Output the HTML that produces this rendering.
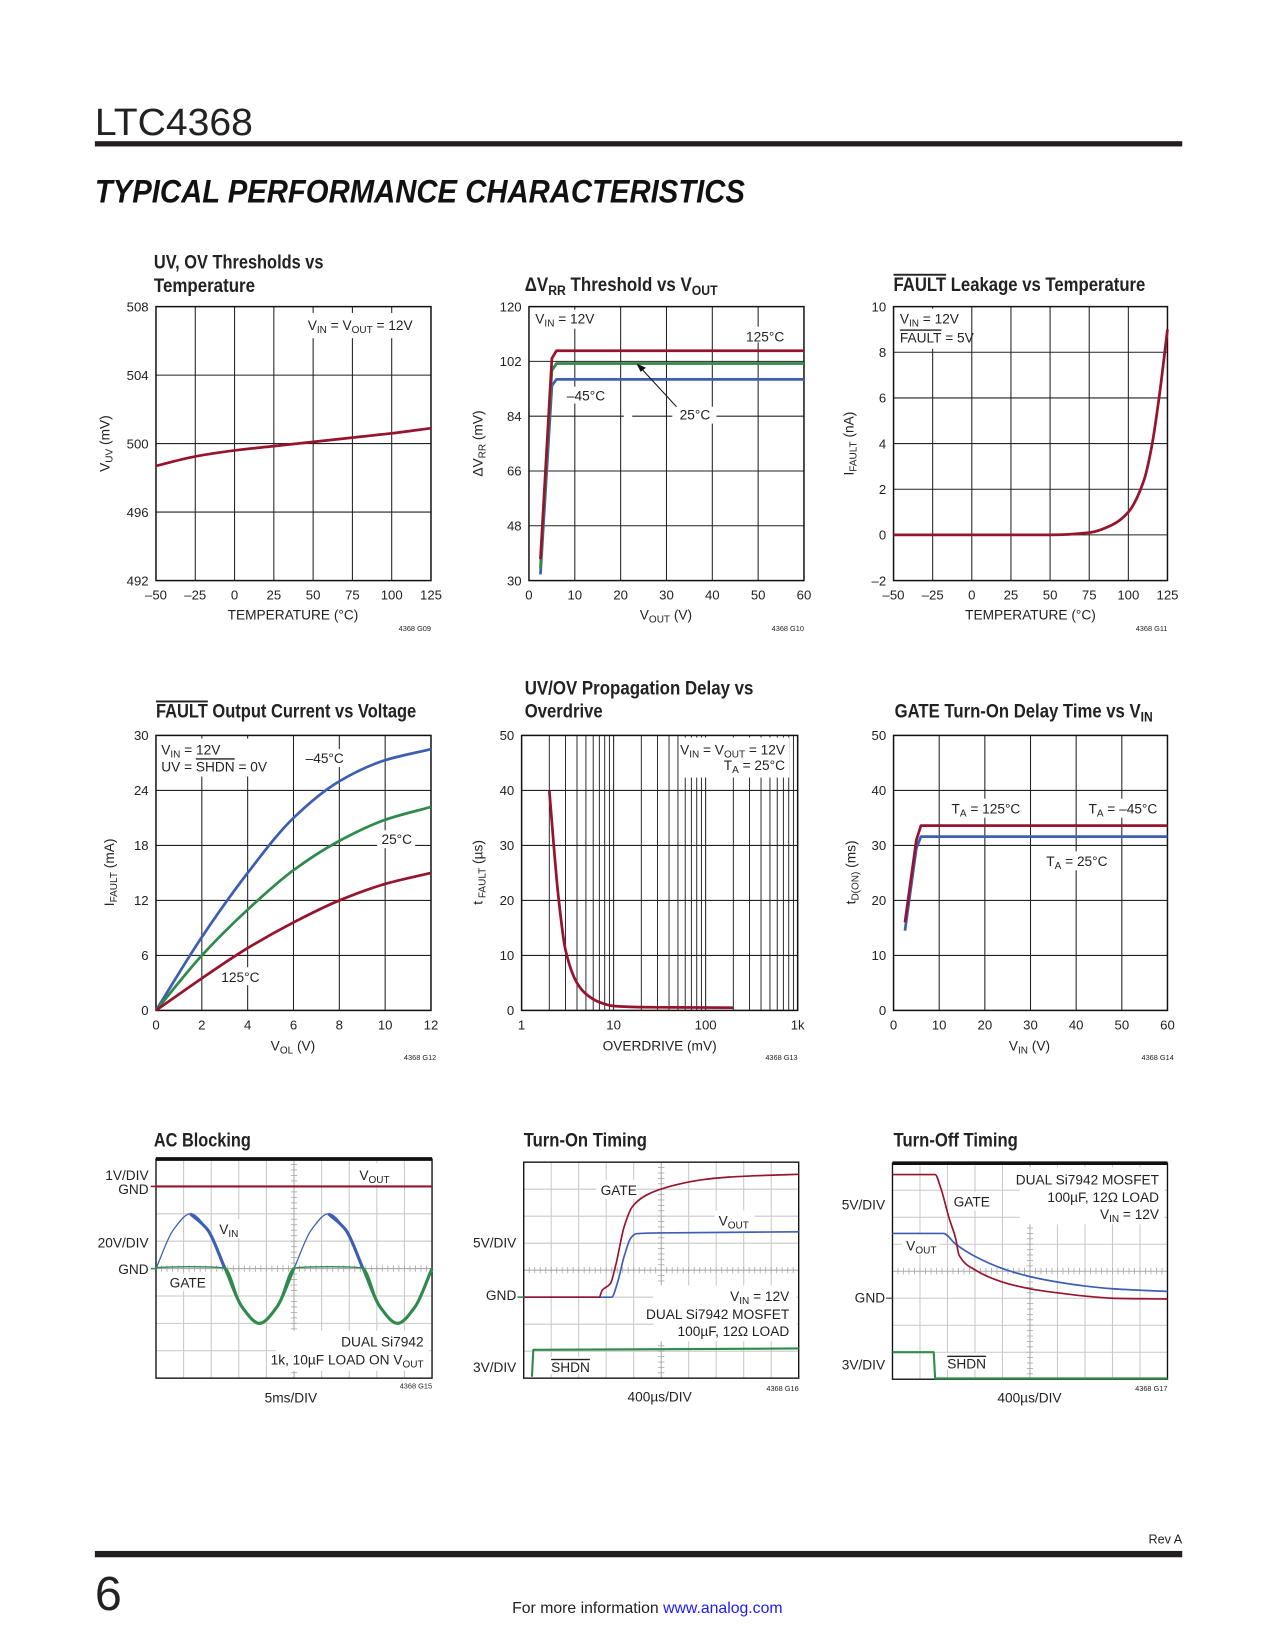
<!DOCTYPE html>
<html><head><meta charset="utf-8"><title>LTC4368 Typical Performance Characteristics</title>
<style>
html,body{margin:0;padding:0;background:#fff;}
svg{display:block;font-family:"Liberation Sans Narrow","Liberation Sans",sans-serif;}
.t{font-size:18px;font-weight:bold;fill:#222;}
.a{font-size:13px;fill:#222;}
.tk{font-size:12.5px;fill:#222;}
.cd{font-size:7px;fill:#222;}
</style></head>
<body>
<svg id="pg" width="1275" height="1650" viewBox="0 0 1210 1566" xmlns="http://www.w3.org/2000/svg">
<rect x="0" y="0" width="1210" height="1566" fill="#fff"/>
<g>
<text x="90" y="128" font-size="36" fill="#222" textLength="150" lengthAdjust="spacingAndGlyphs">LTC4368</text>
<rect x="90" y="134" width="1032" height="5" fill="#231f20"/>
<text x="90" y="192" font-size="31" font-weight="bold" font-style="italic" fill="#111" font-family="Liberation Sans, sans-serif" textLength="617" lengthAdjust="spacingAndGlyphs">TYPICAL PERFORMANCE CHARACTERISTICS</text>
</g>
<g id="charts"></g>
<g id="labels">
<text class="t" x="146" y="255" textLength="161" lengthAdjust="spacingAndGlyphs">UV, OV Thresholds vs</text>
<text class="t" x="146" y="277" textLength="96" lengthAdjust="spacingAndGlyphs">Temperature</text>
<text class="a" x="292" y="313">V<tspan font-size="9.5" baseline-shift="-3">IN</tspan> = V<tspan font-size="9.5" baseline-shift="-3">OUT</tspan> = 12V</text>
<text class="a" x="278" y="588" text-anchor="middle">TEMPERATURE (°C)</text>
<text class="a" transform="translate(104,421) rotate(-90)" text-anchor="middle">V<tspan font-size="9.5" baseline-shift="-3">UV</tspan> (mV)</text>
<text class="cd" x="409" y="599" text-anchor="end">4368 G09</text>
<text class="t" x="498" y="276" textLength="183" lengthAdjust="spacingAndGlyphs">ΔV<tspan font-size="13" baseline-shift="-4">RR</tspan> Threshold vs V<tspan font-size="13" baseline-shift="-4">OUT</tspan></text>
<text class="a" x="508" y="307">V<tspan font-size="9.5" baseline-shift="-3">IN</tspan> = 12V</text>
<text class="a" x="708" y="324">125°C</text>
<text class="a" x="538" y="380">–45°C</text>
<text class="a" x="645" y="398">25°C</text>
<text class="a" x="632" y="588" text-anchor="middle">V<tspan font-size="9.5" baseline-shift="-3">OUT</tspan> (V)</text>
<text class="a" transform="translate(458,421) rotate(-90)" text-anchor="middle">ΔV<tspan font-size="9.5" baseline-shift="-3">RR</tspan> (mV)</text>
<text class="cd" x="763" y="599" text-anchor="end">4368 G10</text>
<text class="t" x="848" y="276" textLength="239" lengthAdjust="spacingAndGlyphs"><tspan text-decoration="overline">FAULT</tspan> Leakage vs Temperature</text>
<text class="a" x="854" y="307">V<tspan font-size="9.5" baseline-shift="-3">IN</tspan> = 12V</text>
<text class="a" x="854" y="325"><tspan text-decoration="overline">FAULT</tspan> = 5V</text>
<text class="a" x="978" y="588" text-anchor="middle">TEMPERATURE (°C)</text>
<text class="a" transform="translate(810,421) rotate(-90)" text-anchor="middle">I<tspan font-size="9.5" baseline-shift="-3">FAULT</tspan> (nA)</text>
<text class="cd" x="1108" y="599" text-anchor="end">4368 G11</text>
<text class="t" x="148" y="681" textLength="247" lengthAdjust="spacingAndGlyphs"><tspan text-decoration="overline">FAULT</tspan> Output Current vs Voltage</text>
<text class="a" x="153" y="716">V<tspan font-size="9.5" baseline-shift="-3">IN</tspan> = 12V</text>
<text class="a" x="153" y="732">UV = <tspan text-decoration="overline">SHDN</tspan> = 0V</text>
<text class="a" x="290" y="724">–45°C</text>
<text class="a" x="362" y="801">25°C</text>
<text class="a" x="210" y="932">125°C</text>
<text class="a" x="278" y="997" text-anchor="middle">V<tspan font-size="9.5" baseline-shift="-3">OL</tspan> (V)</text>
<text class="a" transform="translate(108,828) rotate(-90)" text-anchor="middle">I<tspan font-size="9.5" baseline-shift="-3">FAULT</tspan> (mA)</text>
<text class="cd" x="414" y="1006" text-anchor="end">4368 G12</text>
<text class="t" x="498" y="659" textLength="217" lengthAdjust="spacingAndGlyphs">UV/OV Propagation Delay vs</text>
<text class="t" x="498" y="681" textLength="74" lengthAdjust="spacingAndGlyphs">Overdrive</text>
<text class="a" x="745" y="716" text-anchor="end">V<tspan font-size="9.5" baseline-shift="-3">IN</tspan> = V<tspan font-size="9.5" baseline-shift="-3">OUT</tspan> = 12V</text>
<text class="a" x="745" y="731" text-anchor="end">T<tspan font-size="9.5" baseline-shift="-3">A</tspan> = 25°C</text>
<text class="a" x="626" y="997" text-anchor="middle">OVERDRIVE (mV)</text>
<text class="a" transform="translate(458,828) rotate(-90)" text-anchor="middle">t<tspan font-size="9.5" baseline-shift="-3"> FAULT</tspan> (µs)</text>
<text class="cd" x="757" y="1006" text-anchor="end">4368 G13</text>
<text class="t" x="849" y="681" textLength="245" lengthAdjust="spacingAndGlyphs">GATE Turn-On Delay Time vs V<tspan font-size="13" baseline-shift="-4">IN</tspan></text>
<text class="a" x="903" y="772">T<tspan font-size="9.5" baseline-shift="-3">A</tspan> = 125°C</text>
<text class="a" x="1033" y="772">T<tspan font-size="9.5" baseline-shift="-3">A</tspan> = –45°C</text>
<text class="a" x="993" y="822">T<tspan font-size="9.5" baseline-shift="-3">A</tspan> = 25°C</text>
<text class="a" x="977" y="997" text-anchor="middle">V<tspan font-size="9.5" baseline-shift="-3">IN</tspan> (V)</text>
<text class="a" transform="translate(812,828) rotate(-90)" text-anchor="middle">t<tspan font-size="9.5" baseline-shift="-3">D(ON)</tspan> (ms)</text>
<text class="cd" x="1114" y="1006" text-anchor="end">4368 G14</text>
<text class="t" x="146" y="1088" textLength="92" lengthAdjust="spacingAndGlyphs">AC Blocking</text>
<text class="a" x="141" y="1120" text-anchor="end">1V/DIV</text>
<text class="a" x="141" y="1133" text-anchor="end">GND</text>
<text class="a" x="141" y="1184" text-anchor="end">20V/DIV</text>
<text class="a" x="141" y="1209" text-anchor="end">GND</text>
<text class="a" x="341" y="1120">V<tspan font-size="9.5" baseline-shift="-3">OUT</tspan></text>
<text class="a" x="208" y="1171">V<tspan font-size="9.5" baseline-shift="-3">IN</tspan></text>
<text class="a" x="161" y="1222">GATE</text>
<text class="a" x="402" y="1278" text-anchor="end">DUAL Si7942</text>
<text class="a" x="402" y="1295" text-anchor="end">1k, 10µF LOAD ON V<tspan font-size="9.5" baseline-shift="-3">OUT</tspan></text>
<text class="a" x="276" y="1331" text-anchor="middle">5ms/DIV</text>
<text class="cd" x="410" y="1318" text-anchor="end">4368 G15</text>
<text class="t" x="497" y="1088" textLength="117" lengthAdjust="spacingAndGlyphs">Turn-On Timing</text>
<text class="a" x="490" y="1184" text-anchor="end">5V/DIV</text>
<text class="a" x="490" y="1234" text-anchor="end">GND</text>
<text class="a" x="490" y="1302" text-anchor="end">3V/DIV</text>
<text class="a" x="570" y="1134">GATE</text>
<text class="a" x="682" y="1163">V<tspan font-size="9.5" baseline-shift="-3">OUT</tspan></text>
<text class="a" x="749" y="1235" text-anchor="end">V<tspan font-size="9.5" baseline-shift="-3">IN</tspan> = 12V</text>
<text class="a" x="749" y="1252" text-anchor="end">DUAL Si7942 MOSFET</text>
<text class="a" x="749" y="1268" text-anchor="end">100µF, 12Ω LOAD</text>
<text class="a" x="523" y="1302"><tspan text-decoration="overline">SHDN</tspan></text>
<text class="a" x="626" y="1330" text-anchor="middle">400µs/DIV</text>
<text class="cd" x="758" y="1320" text-anchor="end">4368 G16</text>
<text class="t" x="848" y="1088" textLength="118" lengthAdjust="spacingAndGlyphs">Turn-Off Timing</text>
<text class="a" x="840" y="1148" text-anchor="end">5V/DIV</text>
<text class="a" x="840" y="1236" text-anchor="end">GND</text>
<text class="a" x="840" y="1300" text-anchor="end">3V/DIV</text>
<text class="a" x="1100" y="1124" text-anchor="end">DUAL Si7942 MOSFET</text>
<text class="a" x="1100" y="1141" text-anchor="end">100µF, 12Ω LOAD</text>
<text class="a" x="1100" y="1157" text-anchor="end">V<tspan font-size="9.5" baseline-shift="-3">IN</tspan> = 12V</text>
<text class="a" x="905" y="1145">GATE</text>
<text class="a" x="860" y="1187">V<tspan font-size="9.5" baseline-shift="-3">OUT</tspan></text>
<text class="a" x="899" y="1299"><tspan text-decoration="overline">SHDN</tspan></text>
<text class="a" x="977" y="1331" text-anchor="middle">400µs/DIV</text>
<text class="cd" x="1108" y="1320" text-anchor="end">4368 G17</text>
</g>
<g>
<text x="1122" y="1465" text-anchor="end" font-size="12" fill="#222">Rev A</text>
<rect x="90" y="1472" width="1032" height="6" fill="#231f20"/>
<text x="90" y="1528" font-size="46" fill="#222">6</text>
<text x="486" y="1531" font-size="15" fill="#222">For more information <tspan fill="#1a1aff">www.analog.com</tspan></text>
</g>
</svg>
<script>
// ---------- chart data ----------
const c1Temps = [-50, -25, 0, 25, 50, 75, 100, 125];
const c1Vuv = [498.7, 499.25, 499.6, 499.85, 500.1, 500.35, 500.6, 500.9];
const c1XTicks = [-50, -25, 0, 25, 50, 75, 100, 125];
const c1XLabels = ['–50', '–25', '0', '25', '50', '75', '100', '125'];
const c1YTicks = [492, 496, 500, 504, 508];
const c1YLabels = ['492', '496', '500', '504', '508'];

const c2Vout = [2.5, 5, 6, 60];
const c2T125 = [37, 103, 105.5, 105.5];
const c2T25 = [34, 99, 101.3, 101.3];
const c2Tm45 = [32, 94, 96.1, 96.1];
const c2XTicks = [0, 10, 20, 30, 40, 50, 60];
const c2XLabels = ['0', '10', '20', '30', '40', '50', '60'];
const c2YTicks = [30, 48, 66, 84, 102, 120];
const c2YLabels = ['30', '48', '66', '84', '102', '120'];

const c3Temps = [-50, 0, 50, 75, 90, 100, 110, 115, 120, 125];
const c3Ileak = [0, 0, 0, 0.1, 0.45, 1.0, 2.4, 3.9, 6.2, 9.0];
const c3XTicks = [-50, -25, 0, 25, 50, 75, 100, 125];
const c3XLabels = ['–50', '–25', '0', '25', '50', '75', '100', '125'];
const c3YTicks = [-2, 0, 2, 4, 6, 8, 10];
const c3YLabels = ['–2', '0', '2', '4', '6', '8', '10'];

const c4Vol = [0, 2, 4, 6, 8, 10, 12];
const c4Im45 = [0, 8, 15, 21, 25, 27.3, 28.5];
const c4I25 = [0, 6, 11, 15.3, 18.5, 20.8, 22.2];
const c4I125 = [0, 3.5, 6.8, 9.6, 12, 13.8, 15];
const c4XTicks = [0, 2, 4, 6, 8, 10, 12];
const c4XLabels = ['0', '2', '4', '6', '8', '10', '12'];
const c4YTicks = [0, 6, 12, 18, 24, 30];
const c4YLabels = ['0', '6', '12', '18', '24', '30'];

const c5Overdrive = [2, 2.5, 3, 4, 5, 7, 10, 20, 50, 200];
const c5Delay = [40, 21, 11, 5, 3, 1.5, 0.8, 0.6, 0.55, 0.5];
const c5XTicks = [1, 10, 100, 1000];
const c5XLabels = ['1', '10', '100', '1k'];
const c5YTicks = [0, 10, 20, 30, 40, 50];
const c5YLabels = ['0', '10', '20', '30', '40', '50'];

const c6Vin = [2.5, 5, 6, 60];
const c6T125 = [16, 31, 33.6, 33.6];
const c6T25 = [14.5, 29.5, 31.6, 31.6];
const c6XTicks = [0, 10, 20, 30, 40, 50, 60];
const c6XLabels = ['0', '10', '20', '30', '40', '50', '60'];
const c6YTicks = [0, 10, 20, 30, 40, 50];
const c6YLabels = ['0', '10', '20', '30', '40', '50'];

// scope traces: time in divisions (0-10), level in divisions (0-8 from bottom)
const acTime = [0, 0.625, 1.25, 1.875, 2.5, 3.125, 3.75, 4.375, 5, 5.625, 6.25, 6.875, 7.5, 8.125, 8.75, 9.375, 10];
const acVin = [4, 5.41, 6, 5.41, 4, 2.59, 2, 2.59, 4, 5.41, 6, 5.41, 4, 2.59, 2, 2.59, 4];
const acGate = [4.04, 4.06, 4.07, 4.06, 4.02, 2.59, 2, 2.59, 4.02, 4.06, 4.07, 4.06, 4.02, 2.59, 2, 2.59, 4];
const acVoutTime = [0, 10];
const acVout = [7, 7];

const onGateTime = [0, 2.75, 2.85, 3.15, 3.35, 3.65, 3.95, 4.5, 5.5, 6.5, 7.5, 8.5, 10];
const onGate = [3, 3, 3.25, 3.5, 4.2, 5.6, 6.35, 6.8, 7.15, 7.35, 7.45, 7.5, 7.55];
const onVoutTime = [0, 3.2, 3.4, 3.65, 3.9, 4.1, 5, 10];
const onVout = [3, 3, 3.5, 4.5, 5.2, 5.35, 5.38, 5.42];
const onShdnTime = [0.3, 0.35, 10];
const onShdn = [0.05, 1.05, 1.1];

const offGateTime = [0, 1.55, 1.75, 2.05, 2.3, 2.42, 3, 4, 5, 6, 7, 8, 10];
const offGate = [7.58, 7.58, 7.1, 6.0, 5.2, 4.6, 4.05, 3.6, 3.35, 3.2, 3.08, 3.0, 2.97];
const offVoutTime = [0, 1.85, 2.3, 3, 4, 5, 6, 7, 8, 10];
const offVout = [5.4, 5.4, 5.0, 4.55, 4.1, 3.8, 3.6, 3.45, 3.35, 3.25];
const offShdnTime = [0, 1.5, 1.55, 10];
const offShdn = [1.0, 1.0, 0.03, 0.03];

// ---------- helpers ----------
const NS = 'http://www.w3.org/2000/svg';
const RED = '#97142f', BLUE = '#3d5fb3', GREEN = '#2f8a4c';
const root = document.getElementById('charts');

function make(tag, parent, name) {
  const e = document.createElementNS(NS, tag);
  
  
  parent.appendChild(e);
  return e;
}
function scales(b, xmin, xmax, ymin, ymax, xlog) {
  const lx = v => Math.log10(v);
  const sx = v => xlog ? b.x0 + (lx(v) - lx(xmin)) / (lx(xmax) - lx(xmin)) * (b.x1 - b.x0)
                       : b.x0 + (v - xmin) / (xmax - xmin) * (b.x1 - b.x0);
  const sy = v => b.y1 - (v - ymin) / (ymax - ymin) * (b.y1 - b.y0);
  return { sx, sy };
}
// monotone cubic (Fritsch-Carlson) in screen space: no overshoot
function smoothPath(pts, linear) {
  const f = p => p[0].toFixed(2) + ',' + p[1].toFixed(2);
  let d = 'M' + f(pts[0]);
  const n = pts.length;
  if (linear || n < 3) { for (let i = 1; i < n; i++) d += 'L' + f(pts[i]); return d; }
  const dx = [], sl = [];
  for (let i = 0; i < n - 1; i++) { dx[i] = pts[i + 1][0] - pts[i][0]; sl[i] = (pts[i + 1][1] - pts[i][1]) / dx[i]; }
  const m = [sl[0]];
  for (let i = 1; i < n - 1; i++) {
    if (sl[i - 1] * sl[i] <= 0) m[i] = 0;
    else { const w1 = 2 * dx[i] + dx[i - 1], w2 = dx[i] + 2 * dx[i - 1]; m[i] = (w1 + w2) / (w1 / sl[i - 1] + w2 / sl[i]); }
  }
  m[n - 1] = sl[n - 2];
  for (let i = 0; i < n - 1; i++) {
    const h = dx[i] / 3;
    d += 'C' + (pts[i][0] + h).toFixed(2) + ',' + (pts[i][1] + m[i] * h).toFixed(2) + ' ' +
         (pts[i + 1][0] - h).toFixed(2) + ',' + (pts[i + 1][1] - m[i + 1] * h).toFixed(2) + ' ' + f(pts[i + 1]);
  }
  return d;
}
function series(g, s, xs, ys, color, width, name, linear) {
  const pts = xs.map((x, i) => [s.sx(x), s.sy(ys[i])]);
  const p = make('path', g, name);
  p.setAttribute('d', smoothPath(pts, linear));
  p.setAttribute('fill', 'none');
  p.setAttribute('stroke', color);
  p.setAttribute('stroke-width', width);
  p.setAttribute('stroke-linejoin', 'round');
  return p;
}
function line(g, x1, y1, x2, y2, color, w, name) {
  const l = make('line', g, name);
  l.setAttribute('x1', x1); l.setAttribute('y1', y1);
  l.setAttribute('x2', x2); l.setAttribute('y2', y2);
  l.setAttribute('stroke', color); l.setAttribute('stroke-width', w);
  return l;
}
function mask(g, r, name) {
  const m = make('rect', g, name);
  m.setAttribute('x', r[0]); m.setAttribute('y', r[1]);
  m.setAttribute('width', r[2]); m.setAttribute('height', r[3]);
  m.setAttribute('fill', '#fff');
}
function tickText(g, x, y, str, anchor, name) {
  const t = make('text', g, name);
  t.setAttribute('x', x); t.setAttribute('y', y);
  t.setAttribute('text-anchor', anchor);
  t.setAttribute('class', 'tk');
  t.textContent = str;
}
function subset(xs, ys, lo, hi) {
  const ox = [], oy = [];
  xs.forEach((x, i) => { if (x >= lo && x <= hi) { ox.push(x); oy.push(ys[i]); } });
  return [ox, oy];
}
function lineChart(id, b, s, xt, xl, yt, yl, masks, minor) {
  const g = make('g', root, id);
  if (minor) minor.forEach(v => line(g, s.sx(v), b.y0, s.sx(v), b.y1, '#222', 0.9, id + '-minor-gridline'));
  xt.forEach(v => line(g, s.sx(v), b.y0, s.sx(v), b.y1, '#222', 1, id + '-x-gridline'));
  yt.forEach(v => line(g, b.x0, s.sy(v), b.x1, s.sy(v), '#222', 1, id + '-y-gridline'));
  masks.forEach(r => mask(g, r, id + '-label-backdrop'));
  const fr = make('rect', g, id + '-plot-frame');
  fr.setAttribute('x', b.x0); fr.setAttribute('y', b.y0);
  fr.setAttribute('width', b.x1 - b.x0); fr.setAttribute('height', b.y1 - b.y0);
  fr.setAttribute('fill', 'none'); fr.setAttribute('stroke', '#111'); fr.setAttribute('stroke-width', 1.4);
  xt.forEach((v, i) => tickText(g, s.sx(v), b.y1 + 18, xl[i], 'middle', id + '-x-tick-label'));
  yt.forEach((v, i) => tickText(g, b.x0 - 7, s.sy(v) + 4.5, yl[i], 'end', id + '-y-tick-label'));
  return g;
}
function scopeChart(id, b, thickTop, masks) {
  const g = make('g', root, id);
  const s = scales(b, 0, 10, 0, 8, false);
  for (let i = 1; i < 10; i++) line(g, s.sx(i), b.y0, s.sx(i), b.y1, i === 5 ? '#aaa' : '#c9c9c9', 1, id + '-x-gridline');
  for (let j = 1; j < 8; j++) line(g, b.x0, s.sy(j), b.x1, s.sy(j), j === 4 ? '#aaa' : '#c9c9c9', 1, id + '-y-gridline');
  for (let k = 1; k < 50; k++) {
    line(g, s.sx(k / 5), s.sy(4) - 3, s.sx(k / 5), s.sy(4) + 3, '#aaa', 0.8, id + '-center-tick');
  }
  for (let k = 1; k < 40; k++) {
    line(g, s.sx(5) - 3, s.sy(k / 5), s.sx(5) + 3, s.sy(k / 5), '#aaa', 0.8, id + '-center-tick');
  }
  masks.forEach(r => mask(g, r, id + '-label-backdrop'));
  const fr = make('rect', g, id + '-screen-frame');
  fr.setAttribute('x', b.x0); fr.setAttribute('y', b.y0);
  fr.setAttribute('width', b.x1 - b.x0); fr.setAttribute('height', b.y1 - b.y0);
  fr.setAttribute('fill', 'none'); fr.setAttribute('stroke', '#111'); fr.setAttribute('stroke-width', 1.3);
  if (thickTop) line(g, b.x0, b.y0, b.x1, b.y0, '#111', 3.5, id + '-top-edge');
  return { g, s };
}

(function () {
  const b = { x0: 148, x1: 409, y0: 291, y1: 551 };
  const s = scales(b, -50, 125, 492, 508);
  const g = lineChart('uv-ov-chart', b, s, c1XTicks, c1XLabels, c1YTicks, c1YLabels, [[285, 297, 112, 24]]);
  series(g, s, c1Temps, c1Vuv, RED, 2.6, 'uv-threshold-curve');
})();
(function () {
  const b = { x0: 502, x1: 763, y0: 291, y1: 551 };
  const s = scales(b, 0, 60, 30, 120);
  const g = lineChart('dvrr-chart', b, s, c2XTicks, c2XLabels, c2YTicks, c2YLabels,
    [[505, 294, 62, 18], [703, 310, 46, 15], [533, 367, 46, 16], [592, 388, 8, 8], [638, 386, 42, 16]]);
  series(g, s, c2Vout, c2Tm45, BLUE, 2.6, 'dvrr-minus45c-curve', true);
  series(g, s, c2Vout, c2T25, GREEN, 2.6, 'dvrr-25c-curve', true);
  series(g, s, c2Vout, c2T125, RED, 2.6, 'dvrr-125c-curve', true);
  line(g, 642, 386, 607, 348, '#111', 1, 'dvrr-25c-arrow');
  const ah = make('path', g, 'dvrr-25c-arrowhead');
  ah.setAttribute('d', 'M604,345 L613,349 L608,353 Z');
  ah.setAttribute('fill', '#111');
})();
(function () {
  const b = { x0: 848, x1: 1108, y0: 291, y1: 551 };
  const s = scales(b, -50, 125, -2, 10);
  const g = lineChart('fault-leakage-chart', b, s, c3XTicks, c3XLabels, c3YTicks, c3YLabels, [[850, 293, 70, 38]]);
  series(g, s, c3Temps, c3Ileak, RED, 2.6, 'fault-leakage-curve');
})();
(function () {
  const b = { x0: 148, x1: 409, y0: 698, y1: 959 };
  const s = scales(b, 0, 12, 0, 30);
  const g = lineChart('fault-current-chart', b, s, c4XTicks, c4XLabels, c4YTicks, c4YLabels,
    [[150, 701, 100, 36], [286, 711, 40, 17], [358, 788, 36, 17], [206, 918, 42, 17]]);
  series(g, s, c4Vol, c4Im45, BLUE, 2.6, 'fault-current-minus45c-curve');
  series(g, s, c4Vol, c4I25, GREEN, 2.6, 'fault-current-25c-curve');
  series(g, s, c4Vol, c4I125, RED, 2.6, 'fault-current-125c-curve');
})();
(function () {
  const b = { x0: 495, x1: 757, y0: 698, y1: 959 };
  const s = scales(b, 1, 1000, 0, 50, true);
  const minor = [];
  [1, 10, 100].forEach(d => { for (let m = 2; m <= 9; m++) minor.push(d * m); });
  const g = lineChart('prop-delay-chart', b, s, c5XTicks, c5XLabels, c5YTicks, c5YLabels, [[645, 700, 104, 38]], minor);
  series(g, s, c5Overdrive, c5Delay, RED, 2.6, 'prop-delay-curve');
})();
(function () {
  const b = { x0: 848, x1: 1108, y0: 698, y1: 959 };
  const s = scales(b, 0, 60, 0, 50);
  const g = lineChart('gate-delay-chart', b, s, c6XTicks, c6XLabels, c6YTicks, c6YLabels,
    [[899, 758, 72, 18], [1029, 758, 74, 18], [989, 808, 62, 18]]);
  series(g, s, c6Vin, c6T25, BLUE, 2.6, 'gate-delay-25c-curve', true);
  series(g, s, c6Vin, c6T125, RED, 2.6, 'gate-delay-125c-curve', true);
})();
(function () {
  const b = { x0: 148, x1: 410, y0: 1100, y1: 1308 };
  const r = scopeChart('ac-blocking-scope', b, true, [[338, 1104, 36, 20], [205, 1157, 28, 18], [158, 1209, 38, 16], [262, 1263, 145, 38]]);
  series(r.g, r.s, acVoutTime, acVout, RED, 2, 'ac-vout-trace', true);
  series(r.g, r.s, acTime, acVin, BLUE, 1.2, 'ac-vin-trace');
  [[1.25, 2.5], [6.25, 7.5]].forEach(rg => {
    const sub = subset(acTime, acVin, rg[0], rg[1]);
    series(r.g, r.s, sub[0], sub[1], BLUE, 3, 'ac-vin-falling-emphasis');
  });
  series(r.g, r.s, acTime, acGate, GREEN, 1.3, 'ac-gate-trace');
  [[2.5, 5], [7.5, 10]].forEach(rg => {
    const sub = subset(acTime, acGate, rg[0], rg[1]);
    series(r.g, r.s, sub[0], sub[1], GREEN, 3, 'ac-gate-negative-half');
  });
  line(r.g, 143, r.s.sy(7), 148, r.s.sy(7), RED, 1.5, 'ac-vout-ground-marker');
  line(r.g, 143, r.s.sy(4), 148, r.s.sy(4), GREEN, 1.5, 'ac-gate-ground-marker');
})();
(function () {
  const b = { x0: 497, x1: 758, y0: 1103, y1: 1308 };
  const r = scopeChart('turn-on-scope', b, false, [[566, 1120, 38, 18], [678, 1149, 38, 20], [620, 1220, 136, 53], [518, 1288, 36, 16]]);
  series(r.g, r.s, onVoutTime, onVout, BLUE, 1.6, 'turn-on-vout-trace');
  series(r.g, r.s, onGateTime, onGate, RED, 1.6, 'turn-on-gate-trace');
  series(r.g, r.s, onShdnTime, onShdn, GREEN, 2, 'turn-on-shdn-trace', true);
  line(r.g, 491, r.s.sy(3), 497, r.s.sy(3), GREEN, 1.5, 'turn-on-ground-marker');
})();
(function () {
  const b = { x0: 847, x1: 1108, y0: 1104, y1: 1309 };
  const r = scopeChart('turn-off-scope', b, true, [[968, 1108, 137, 54], [902, 1131, 38, 18], [856, 1171, 36, 20], [896, 1284, 38, 16]]);
  series(r.g, r.s, offVoutTime, offVout, BLUE, 1.6, 'turn-off-vout-trace');
  series(r.g, r.s, offGateTime, offGate, RED, 1.6, 'turn-off-gate-trace');
  series(r.g, r.s, offShdnTime, offShdn, GREEN, 2, 'turn-off-shdn-trace', true);
  line(r.g, 841, r.s.sy(3), 847, r.s.sy(3), '#555', 1.2, 'turn-off-ground-marker');
})();
</script>
</body></html>
